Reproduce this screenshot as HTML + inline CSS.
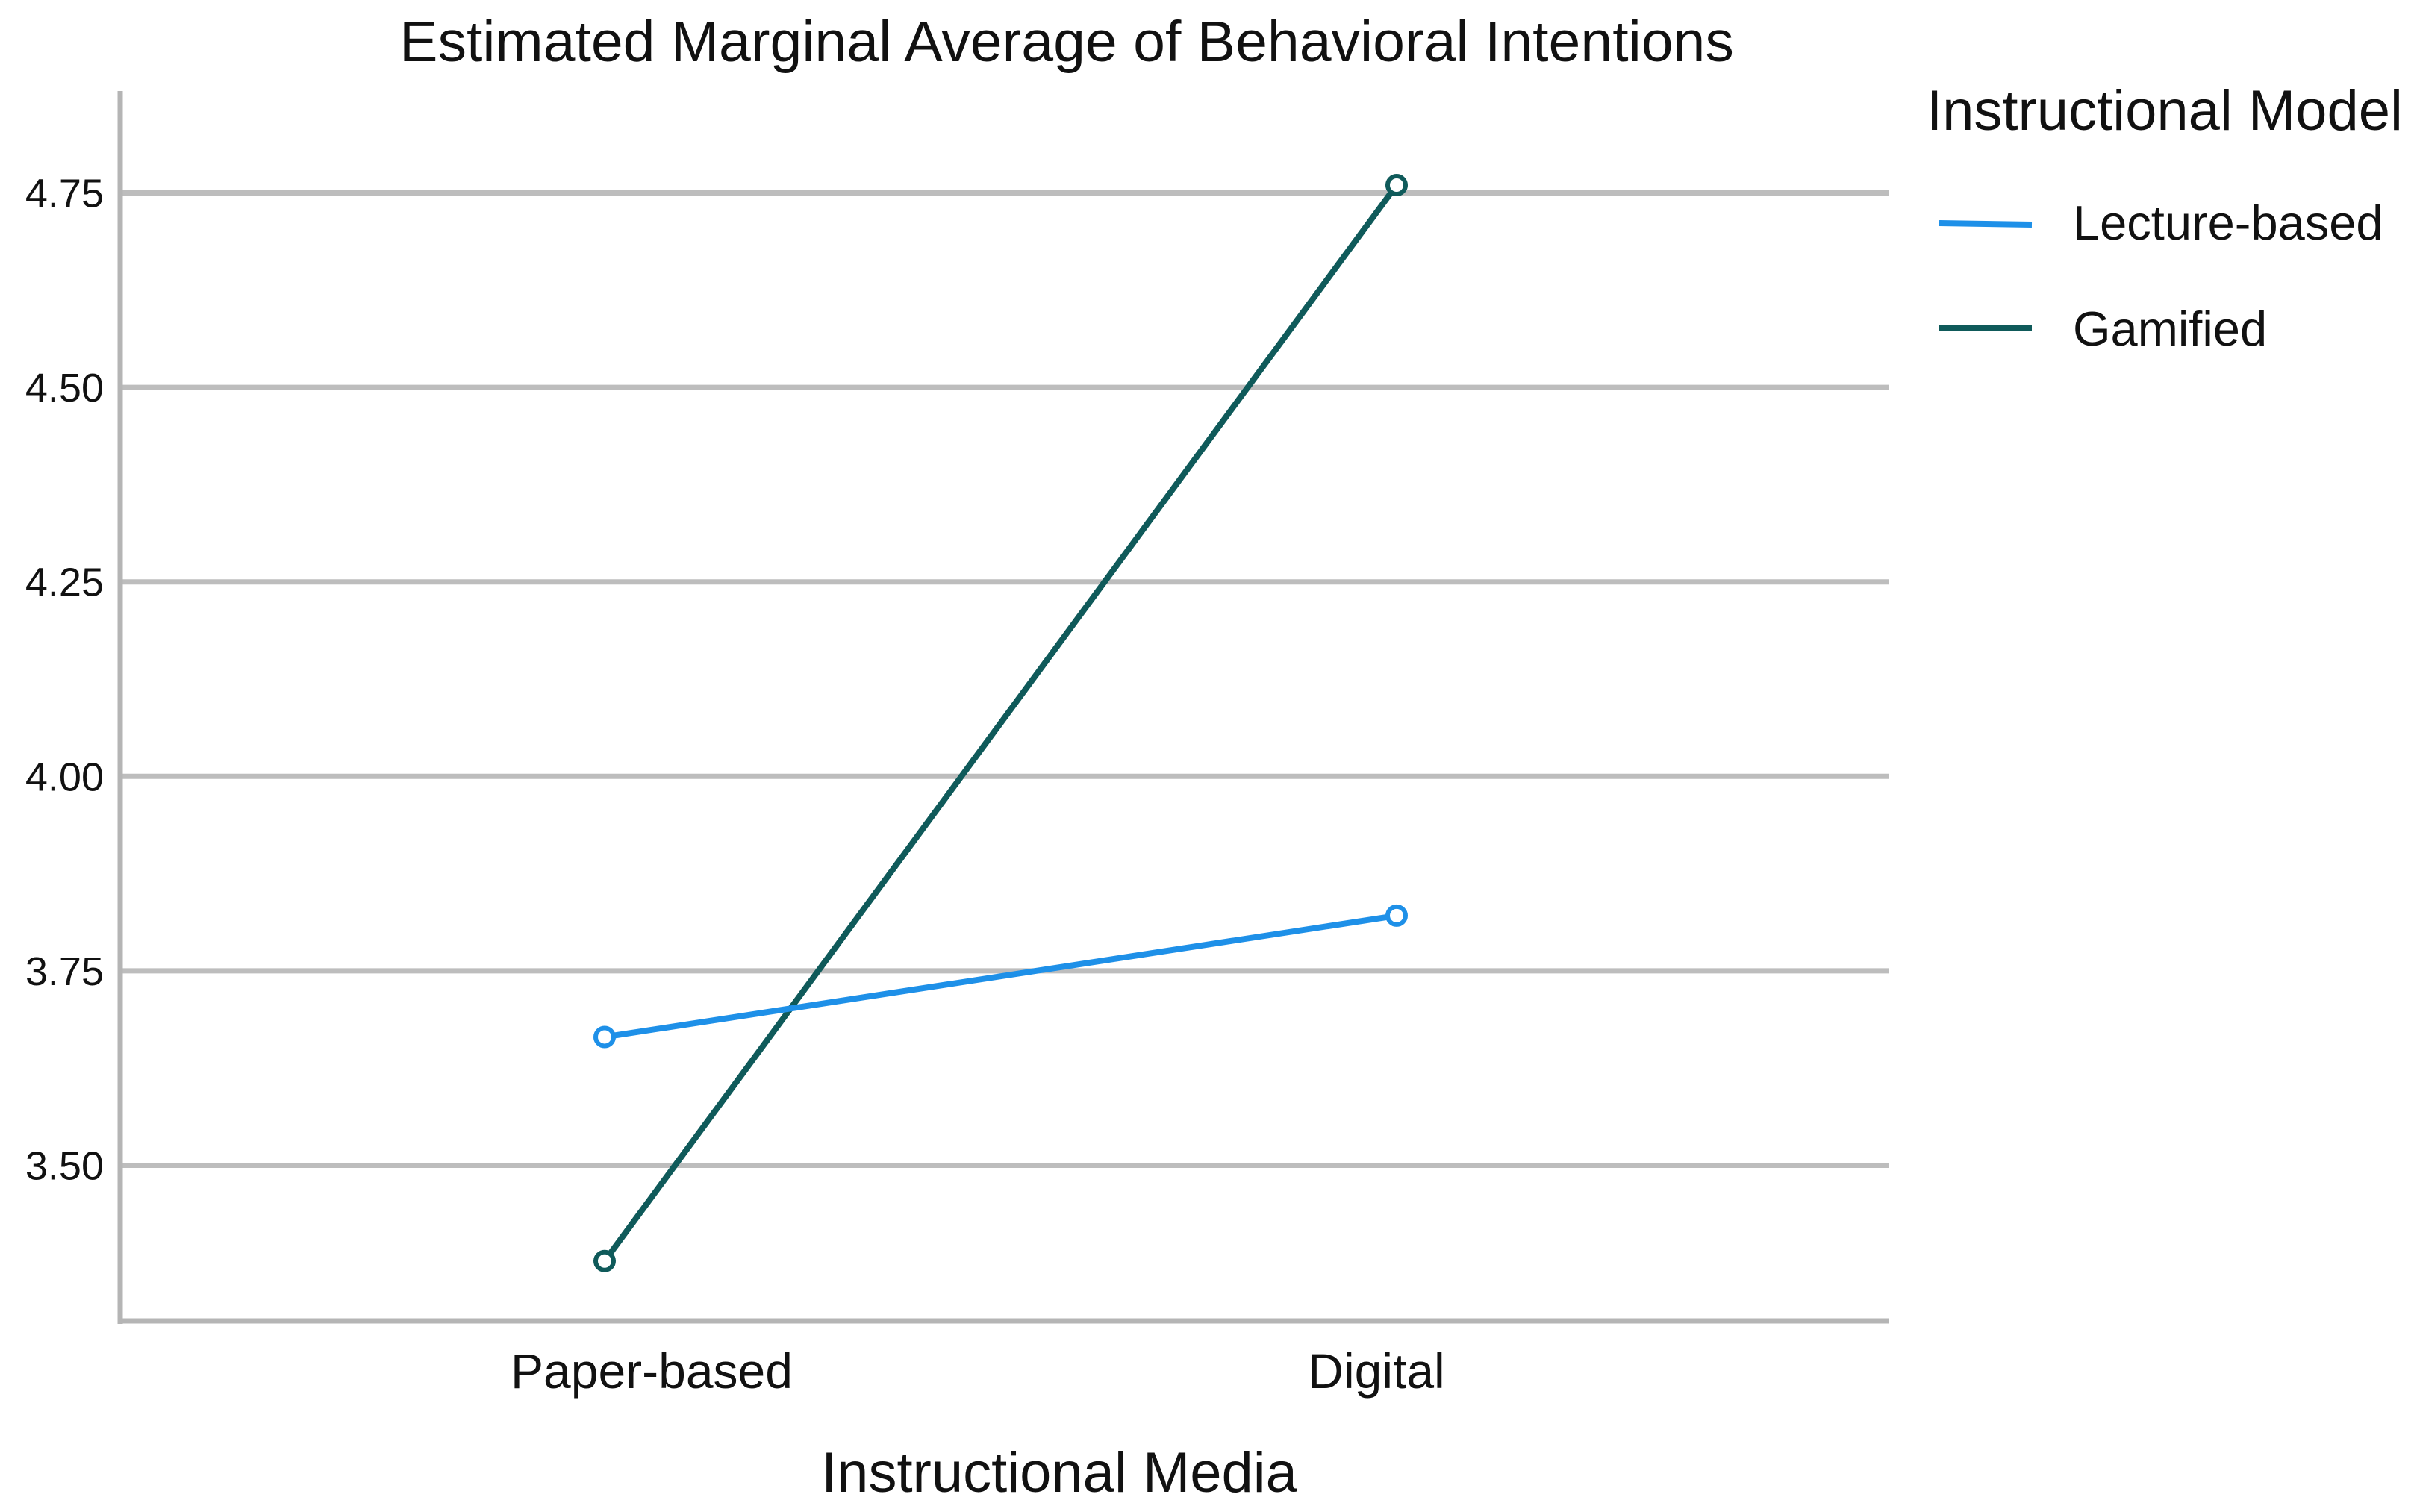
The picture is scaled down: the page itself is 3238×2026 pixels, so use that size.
<!DOCTYPE html>
<html><head><meta charset="utf-8"><style>
html,body{margin:0;padding:0;background:#fff;}
svg{display:block;font-family:"Liberation Sans",Arial,sans-serif;}
</style></head><body>
<svg id="chart" width="3238" height="2026" viewBox="0 0 3238 2026" xmlns="http://www.w3.org/2000/svg">
<text x="1429" y="82" font-size="77" text-anchor="middle" fill="#111">Estimated Marginal Average of Behavioral Intentions</text>
<g id="grid"></g>
<g id="yticks"></g>
<line x1="161" y1="122" x2="161" y2="1774" stroke="#b5b5b5" stroke-width="7"/>
<line x1="158" y1="1770" x2="2530" y2="1770" stroke="#b5b5b5" stroke-width="7"/>
<g id="xlabels"></g>
<text x="1419" y="1999" font-size="76" text-anchor="middle" fill="#111">Instructional Media</text>
<g id="series"></g>
<g>
<text x="2581" y="174" font-size="76" fill="#111">Instructional Model</text>
<g>
<line x1="2598" y1="299" x2="2722" y2="301" stroke="#1e90e8" stroke-width="8"/>
<text x="2777" y="321" font-size="65" fill="#111">Lecture-based</text>
</g>
<g>
<line x1="2598" y1="440" x2="2722" y2="440" stroke="#0f5a5a" stroke-width="8"/>
<text x="2777" y="463" font-size="65" fill="#111">Gamified</text>
</g>
</g>
</svg>
<script>
const categories = ["Paper-based", "Digital"];
const lectureValues = [3.665, 3.821];
const gamifiedValues = [3.377, 4.760];
const yTicks = [3.50, 3.75, 4.00, 4.25, 4.50, 4.75];
const yTickLabels = ["3.50", "3.75", "4.00", "4.25", "4.50", "4.75"];

const NS = "http://www.w3.org/2000/svg";
const yMin = 3.30, yMax = 4.879, pxBottom = 1770, pxTop = 124;
function yScale(v){ return pxBottom - (v - yMin) / (yMax - yMin) * (pxBottom - pxTop); }
const catPos = [810, 1871];
function xScale(i){ return catPos[0] + i * (catPos[1] - catPos[0]) / (categories.length - 1); }
function mk(tag, attrs, parent){ const e = document.createElementNS(NS, tag); for (const k in attrs) e.setAttribute(k, attrs[k]); parent.appendChild(e); return e; }

const grid = document.getElementById("grid"), yt = document.getElementById("yticks");
yTicks.forEach((t, i) => {
  const y = yScale(t);
  const g = mk("line", {x1:161, y1:y, x2:2530, y2:y, stroke:"#bdbdbd", "stroke-width":7}, grid);
  
  
  const tx = mk("text", {x:139, y:y + 19, "font-size":54, "text-anchor":"end", fill:"#111"}, yt);
  tx.textContent = yTickLabels[i];
  
  
});
const xl = document.getElementById("xlabels");
const labelOffsets = [63, -27];
categories.forEach((c, i) => {
  const tx = mk("text", {x:xScale(i) + labelOffsets[i], y:1860, "font-size":66, "text-anchor":"middle", fill:"#111"}, xl);
  tx.textContent = c;
  
  
});
const sg = document.getElementById("series");
function drawSeries(vals, color, name){
  const pts = vals.map((v, i) => xScale(i) + "," + yScale(v)).join(" ");
  const pl = mk("polyline", {points:pts, fill:"none", stroke:color, "stroke-width":8}, sg);
  
  
  vals.forEach((v, i) => {
    const c = mk("circle", {cx:xScale(i), cy:yScale(v), r:12, fill:"#fff", stroke:color, "stroke-width":6}, sg);
    
    
  });
}
drawSeries(gamifiedValues, "#0f5a5a", "gamified");
drawSeries(lectureValues, "#1e90e8", "lecture-based");
</script>
</body></html>
